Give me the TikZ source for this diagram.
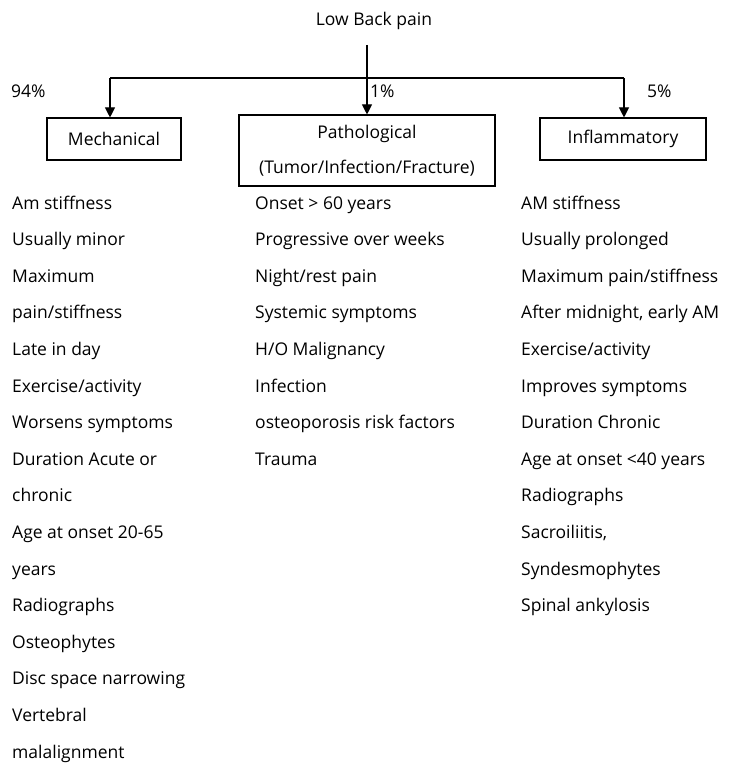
\documentclass[tikz,border=0pt]{standalone}
\usepackage{fontspec}
\setmainfont{Open Sans}
\usetikzlibrary{arrows.meta}
\begin{document}
\begin{tikzpicture}[x=1pt,y=-1pt,
  txt/.style={anchor=base west,inner sep=0pt,font=\fontsize{17.5}{21}\selectfont},
  lbl/.style={inner sep=0pt,font=\fontsize{17.5}{21}\selectfont},
  box/.style={draw,line width=1.1pt,inner sep=0pt,font=\fontsize{17.5}{21}\selectfont,align=center},
  arr/.style={line width=1.1pt,-{Triangle[width=10pt,length=10pt]}},
  ln/.style={line width=1.1pt}]
\useasboundingbox[fill=white] (0,0) rectangle (731,765);
\node[lbl,anchor=base] (top) at (374,26) {Low Back pain};
\node[box,minimum width=134,minimum height=42] (mech) at (114,139) {Mechanical};
\node[box,minimum width=256,minimum height=71] (path) at (367,150.5) {Pathological\\[14pt](Tumor/Infection/Fracture)};
\node[box,minimum width=166,minimum height=42] (infl) at (623,139) {Inflammatory};
\coordinate (bl) at (110,78);
\coordinate (br) at (624,78);
\coordinate (vs) at (367,45);
\draw[ln] (bl) -- (br);
\draw[arr] (vs) -- (path.north);
\draw[arr] (bl) -- (mech.north -| bl);
\draw[arr] (br) -- (infl.north -| br);
\node[lbl,anchor=base west] (p94) at (11,98) {94\%};
\node[lbl,anchor=base west] (p1) at (370,98) {1\%};
\node[lbl,anchor=base west] (p5) at (647,98) {5\%};
\foreach \t [count=\i from 0] in {Am stiffness,Usually minor,Maximum,pain/stiffness,Late in day,Exercise/activity,Worsens symptoms,Duration Acute or,chronic,Age at onset 20-65,years,Radiographs,Osteophytes,Disc space narrowing,Vertebral,malalignment}
  \node[txt] (l\i) at (12,{209+36.6*\i}) {\t};
\foreach \t [count=\i from 0] in {Onset > 60 years,Progressive over weeks,Night/rest pain,Systemic symptoms,H/O Malignancy,Infection,osteoporosis risk factors,Trauma}
  \node[txt] (m\i) at (255,{209+36.6*\i}) {\t};
\foreach \t [count=\i from 0] in {AM stiffness,Usually prolonged,Maximum pain/stiffness,{After midnight, early AM},Exercise/activity,Improves symptoms,Duration Chronic,Age at onset <40 years,Radiographs,{Sacroiliitis,},Syndesmophytes,Spinal ankylosis}
  \node[txt] (r\i) at (521,{209+36.6*\i}) {\t};
\end{tikzpicture}
\end{document}
